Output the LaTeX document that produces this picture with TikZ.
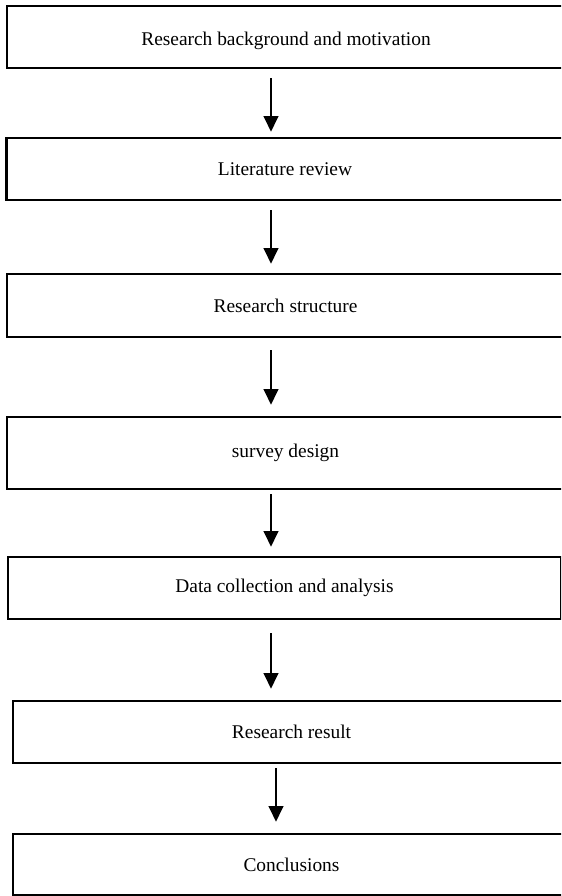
\documentclass[tikz,border=0pt]{standalone}
\usepackage{fontspec}
\setmainfont{Liberation Serif}
\usetikzlibrary{arrows.meta}

\begin{document}
\begin{tikzpicture}[x=0.025cm,y=-0.025cm,
  box/.style={draw, line width=1.9pt, minimum width=13.925cm, minimum height=1.55cm, inner sep=0pt, font=\fontsize{13.8}{16}\selectfont},
  flow/.style={-{Triangle[length=11pt,width=10.5pt]}, line width=1pt}]
\useasboundingbox (0,0) rectangle (561,896);
\clip (0,0) rectangle (561,896);

\node[box, minimum width=13.95cm, text height=0.55cm] (bg) at (286,37) {Research background and motivation};
\node[box] (lit) at (285,169) {Literature review};
\node[box, minimum height=1.575cm] (str) at (285.5,305.5) {Research structure};
\node[box, minimum height=1.8cm] (sur) at (285.5,453) {survey design};
\node[box, minimum width=13.825cm] (dat) at (284.5,588) {Data collection and analysis};
\node[box] (res) at (291.5,732) {Research result};
\node[box, minimum height=1.525cm] (con) at (291.5,864.5) {Conclusions};

\coordinate (ax) at (271,0);
\coordinate (bx) at (276,0);
\draw[flow, shorten <=0.225cm, shorten >=0.125cm] (bg.south -| ax) -- (lit.north -| ax);
\draw[flow, shorten <=0.225cm, shorten >=0.225cm] (lit.south -| ax) -- (str.north -| ax);
\draw[flow, shorten <=0.3cm, shorten >=0.275cm] (str.south -| ax) -- (sur.north -| ax);
\draw[flow, shorten <=0.1cm, shorten >=0.225cm] (sur.south -| ax) -- (dat.north -| ax);
\draw[flow, shorten <=0.325cm, shorten >=0.275cm] (dat.south -| ax) -- (res.north -| ax);
\draw[flow, shorten <=0.1cm, shorten >=0.275cm] (res.south -| bx) -- (con.north -| bx);

\end{tikzpicture}
\end{document}
